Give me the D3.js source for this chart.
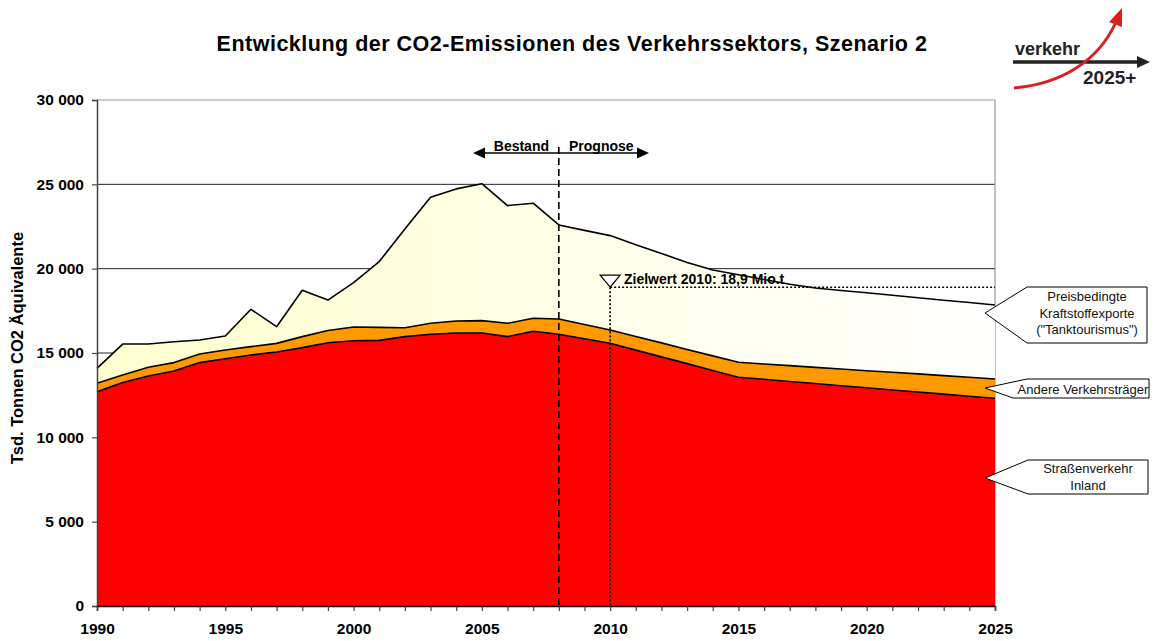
<!DOCTYPE html>
<html>
<head>
<meta charset="utf-8">
<script src="https://cdn.jsdelivr.net/npm/d3@7"></script>
<style>
  body { margin: 0; background: #fff; }
  svg { font-family: Arial, "Liberation Sans", sans-serif; }
</style>
</head>
<body>
<div id="chart"></div>
<script>
const years = d3.range(1990, 2026)

// Straßenverkehr Inland (Tsd. t CO2-Äquivalente)
const strasse = [12700, 13250, 13640, 13930, 14430, 14660, 14880, 15060, 15320, 15610,
  15730, 15750, 15970, 16110, 16190, 16190, 15970, 16290, 16110, 15840,
  15580, 15170, 14770, 14370, 13960, 13560, 13440, 13310, 13190, 13060,
  12940, 12810, 12690, 12560, 12440, 12320]

// Andere Verkehrsträger
const andere = [500, 450, 510, 500, 510, 520, 500, 510, 650, 720,
  810, 770, 530, 650, 710, 730, 790, 770, 910, 850,
  780, 810, 830, 840, 870, 890, 910, 940, 960, 990,
  1010, 1050, 1070, 1100, 1120, 1140]

// Preisbedingte Kraftstoffexporte ("Tanktourismus")
const tank = [890, 1830, 1380, 1240, 830, 830, 2210, 990, 2750, 1810,
  2630, 3900, 5850, 7470, 7830, 8120, 6980, 6820, 5570, 5580,
  5600, 5440, 5300, 5160, 5090, 5190, 5010, 4830, 4700, 4660,
  4620, 4560, 4520, 4470, 4430, 4390]

const yTicks = [0, 5000, 10000, 15000, 20000, 25000, 30000]
const xLabels = [1990, 1995, 2000, 2005, 2010, 2015, 2020, 2025]
const splitYear = 2008
const targetYear = 2010
const targetValue = 18900

const width = 1155
const height = 641
const plot = { left: 97, right: 995, top: 100, bottom: 606 }

const svg = d3.select('#chart').append('svg')
  .attr('width', width)
  .attr('height', height)

const x = d3.scaleLinear().domain([1990, 2025]).range([plot.left, plot.right])
const y = d3.scaleLinear().domain([0, 30000]).range([plot.bottom, plot.top])

const table = years.map((yr, i) => ({ year: yr, strasse: strasse[i], andere: andere[i], tank: tank[i] }))
const layers = d3.stack().keys(['strasse', 'andere', 'tank'])(table)

const defs = svg.append('defs')
const grad = defs.append('linearGradient')
  .attr('id', 'tankGrad')
  .attr('gradientUnits', 'userSpaceOnUse')
  .attr('x1', plot.left).attr('x2', plot.right).attr('y1', 0).attr('y2', 0)
grad.append('stop').attr('offset', '0%').attr('stop-color', '#ffffcf')
grad.append('stop').attr('offset', '100%').attr('stop-color', '#ffffff')

const fills = { strasse: '#ff0000', andere: '#ff9900', tank: 'url(#tankGrad)' }

// title
svg.append('text')
  .attr('x', 572).attr('y', 51)
  .attr('text-anchor', 'middle')
  .attr('font-weight', 'bold')
  .attr('font-size', 21.5)
  .attr('letter-spacing', 0.5)
  .text('Entwicklung der CO2-Emissionen des Verkehrssektors, Szenario 2')

// grid lines
svg.append('g')
  .selectAll('line')
  .data(yTicks.filter(d => d > 0 && d < 30000))
  .enter().append('line')
  .attr('x1', plot.left).attr('x2', plot.right)
  .attr('y1', d => y(d)).attr('y2', d => y(d))
  .attr('stroke', '#222')
  .attr('stroke-width', 1)

// plot border top / right
svg.append('path')
  .attr('d', `M${plot.left},${y(30000)}H${plot.right}V${plot.bottom}`)
  .attr('fill', 'none')
  .attr('stroke', '#999')
  .attr('stroke-width', 1.2)

// areas
const area = d3.area()
  .x(d => x(d.data.year))
  .y0(d => y(d[0]))
  .y1(d => y(d[1]))

const line = d3.line()
  .x(d => x(d.data.year))
  .y(d => y(d[1]))

svg.append('g')
  .selectAll('path')
  .data(layers)
  .enter().append('path')
  .attr('d', area)
  .attr('fill', d => fills[d.key])

svg.append('g')
  .selectAll('path')
  .data(layers)
  .enter().append('path')
  .attr('d', line)
  .attr('fill', 'none')
  .attr('stroke', '#000')
  .attr('stroke-width', 1.6)
  .attr('stroke-linejoin', 'round')

// Bestand / Prognose
svg.append('line')
  .attr('x1', x(splitYear)).attr('x2', x(splitYear))
  .attr('y1', 147).attr('y2', plot.bottom)
  .attr('stroke', '#000')
  .attr('stroke-width', 1.6)
  .attr('stroke-dasharray', '7,4')

svg.append('line')
  .attr('x1', 482).attr('x2', 640)
  .attr('y1', 153).attr('y2', 153)
  .attr('stroke', '#000')
  .attr('stroke-width', 1.5)
svg.append('path')
  .attr('d', 'M473,153L485,147.5L485,158.5Z M649,153L637,147.5L637,158.5Z')
  .attr('fill', '#000')

svg.append('text')
  .attr('x', 549).attr('y', 151)
  .attr('text-anchor', 'end')
  .attr('font-weight', 'bold')
  .attr('font-size', 14)
  .text('Bestand')
svg.append('text')
  .attr('x', 569).attr('y', 151)
  .attr('font-weight', 'bold')
  .attr('font-size', 14)
  .text('Prognose')

// Zielwert 2010
svg.append('path')
  .attr('d', `M${x(targetYear)},${y(targetValue)}H${plot.right}M${x(targetYear)},${y(targetValue)}V${plot.bottom}`)
  .attr('fill', 'none')
  .attr('stroke', '#000')
  .attr('stroke-width', 1.6)
  .attr('stroke-dasharray', '2,2')

svg.append('path')
  .attr('d', `M${x(targetYear)},${y(targetValue)}L${x(targetYear) - 10},${y(targetValue) - 12}L${x(targetYear) + 10},${y(targetValue) - 12}Z`)
  .attr('fill', '#fff')
  .attr('stroke', '#000')
  .attr('stroke-width', 1.2)

svg.append('text')
  .attr('x', 624).attr('y', 284)
  .attr('font-weight', 'bold')
  .attr('font-size', 14)
  .text('Zielwert 2010: 18,9 Mio.t')

// axes
const fmt = d => d3.format(',')(d).replace(/,/g, ' ')

const yAxis = svg.append('g')
  .attr('transform', `translate(${plot.left},0)`)
  .call(d3.axisLeft(y).tickValues(yTicks).tickSize(5).tickFormat(fmt))
yAxis.select('.domain').attr('stroke', '#444').attr('stroke-width', 1.5)
yAxis.selectAll('.tick line').attr('stroke', '#444').attr('stroke-width', 1.2)
yAxis.selectAll('.tick text')
  .attr('x', -13)
  .attr('font-family', 'Arial, "Liberation Sans", sans-serif')
  .attr('font-size', 15.5)
  .attr('font-weight', 'bold')
  .attr('fill', '#000')

const xAxis = svg.append('g')
  .attr('transform', `translate(0,${plot.bottom})`)
  .call(d3.axisBottom(x).tickValues(years).tickSize(5).tickFormat(d => xLabels.includes(d) ? d : ''))
xAxis.select('.domain').attr('stroke', '#000').attr('stroke-width', 1.5)
xAxis.selectAll('.tick line').attr('stroke', '#444').attr('stroke-width', 1.2)
xAxis.selectAll('.tick text')
  .attr('y', 17)
  .attr('font-family', 'Arial, "Liberation Sans", sans-serif')
  .attr('font-size', 15.5)
  .attr('font-weight', 'bold')
  .attr('fill', '#000')

svg.append('text')
  .attr('transform', 'translate(23,348) rotate(-90)')
  .attr('text-anchor', 'middle')
  .attr('font-weight', 'bold')
  .attr('font-size', 16.5)
  .text('Tsd. Tonnen CO2 Äquivalente')

// callouts
const callouts = [
  { tip: [985, 313], x0: 1027, x1: 1147, y0: 287, y1: 343, lines: ['Preisbedingte', 'Kraftstoffexporte', '("Tanktourismus")'], cy: 313 },
  { tip: [985, 388], x0: 1013, x1: 1149, y0: 379, y1: 398, lines: ['Andere Verkehrsträger'], cy: 389 },
  { tip: [985, 478], x0: 1028, x1: 1148, y0: 460, y1: 494, lines: ['Straßenverkehr', 'Inland'], cy: 477 }
]

callouts.forEach(c => {
  const pts = c.lines.length === 1
    ? [c.tip, [c.x0 + 14, c.y0], [c.x1, c.y0], [c.x1, c.y1], [c.x0, c.y1]]
    : [c.tip, [c.x0, c.y0], [c.x1, c.y0], [c.x1, c.y1], [c.x0, c.y1]]
  svg.append('path')
    .attr('d', 'M' + pts.join('L') + 'Z')
    .attr('fill', '#fff')
    .attr('stroke', '#000')
    .attr('stroke-width', 1)
  const lh = 16.5
  const cx = c.lines.length === 1 ? (c.x0 + c.x1) / 2 + 2 : (c.x0 + c.x1) / 2
  c.lines.forEach((t, i) => {
    svg.append('text')
      .attr('x', cx)
      .attr('y', c.cy + (i - (c.lines.length - 1) / 2) * lh + 4.5)
      .attr('text-anchor', 'middle')
      .attr('font-size', 13)
      .attr('fill', '#111')
      .text(t)
  })
})

// logo
const logo = svg.append('g')
logo.append('text')
  .attr('x', 1015).attr('y', 55)
  .attr('font-weight', 'bold')
  .attr('font-size', 18)
  .attr('fill', '#222')
  .text('verkehr')
logo.append('line')
  .attr('x1', 1013).attr('x2', 1140)
  .attr('y1', 62).attr('y2', 62)
  .attr('stroke', '#222')
  .attr('stroke-width', 3.5)
logo.append('path')
  .attr('d', 'M1150,62L1137,56L1137,68Z')
  .attr('fill', '#222')
logo.append('text')
  .attr('x', 1083).attr('y', 84)
  .attr('font-weight', 'bold')
  .attr('font-size', 19)
  .attr('fill', '#222')
  .text('2025+')
logo.append('path')
  .attr('d', 'M1014,88C1060,84 1098,62 1116,22')
  .attr('fill', 'none')
  .attr('stroke', '#d92020')
  .attr('stroke-width', 3)
logo.append('path')
  .attr('d', 'M1122,8L1109,22L1122,27Z')
  .attr('fill', '#d92020')
</script>
</body>
</html>
